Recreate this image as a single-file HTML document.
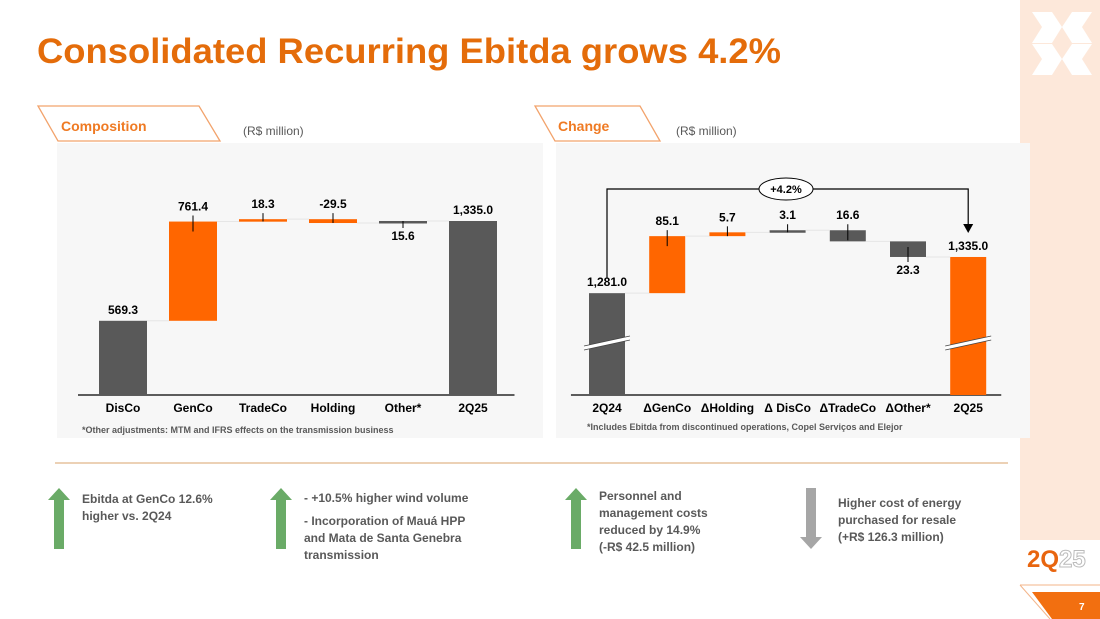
<!DOCTYPE html>
<html><head><meta charset="utf-8"><style>
html,body{margin:0;padding:0;background:#fff}
svg{display:block;font-family:"Liberation Sans",sans-serif}
.b{font-weight:bold}
</style></head><body>
<svg id="s" width="1100" height="619" viewBox="0 0 1100 619" xmlns="http://www.w3.org/2000/svg">
<rect x="1020" y="0" width="80" height="540" fill="#fde8da"/>
<g fill="#fff">
<polygon points="1032,12 1052,12 1062,27 1042,27"/><polygon points="1092,12 1072,12 1062,27 1082,27"/>
<polygon points="1042,27 1062,27 1052,43 1032,43"/><polygon points="1082,27 1062,27 1072,43 1092,43"/>
<polygon points="1032,44 1052,44 1062,59 1042,59"/><polygon points="1092,44 1072,44 1062,59 1082,59"/>
<polygon points="1042,59 1062,59 1052,75 1032,75"/><polygon points="1082,59 1062,59 1072,75 1092,75"/>
</g>
<text x="1027" y="567" font-size="24" class="b" fill="#e8650f">2Q<tspan fill="#fff" stroke="#bbb" stroke-width="1">25</tspan></text>
<polyline points="1020,585 1100,585" stroke="#f3b58a" stroke-width="1" fill="none"/>
<polyline points="1020,585 1050,619" stroke="#f3b58a" stroke-width="1" fill="none"/>
<polygon points="1032,592 1100,592 1100,619 1052,619" fill="#f26f10"/>
<text x="1079" y="610" font-size="10" fill="#fff" class="b">7</text>

<text x="37" y="63" font-size="35" class="b" fill="#e46c0a" textLength="744" lengthAdjust="spacingAndGlyphs">Consolidated Recurring Ebitda grows 4.2%</text>

<polygon points="38,106 199,106 220,141 58,141" fill="#fff" stroke="#f2a36c" stroke-width="1.3"/>
<text x="61" y="131" font-size="14" class="b" fill="#ef7a23">Composition</text>
<text x="243" y="135" font-size="12" fill="#595959">(R$ million)</text>
<polygon points="535,106 640,106 660,141 555,141" fill="#fff" stroke="#f2a36c" stroke-width="1.3"/>
<text x="558" y="131" font-size="14" class="b" fill="#ef7a23">Change</text>
<text x="676" y="135" font-size="12" fill="#595959">(R$ million)</text>

<rect x="57" y="143" width="486" height="295" fill="#f7f7f7"/>
<rect x="556" y="143" width="474" height="295" fill="#f7f7f7"/>
<g id="c1"></g>
<g id="c2"></g>
<text x="82" y="433" font-size="9" class="b" fill="#595959">*Other adjustments: MTM and IFRS effects on the transmission business</text>
<text x="587" y="430" font-size="9" class="b" fill="#595959">*Includes Ebitda from discontinued operations, Copel Serviços and Elejor</text>

<line x1="55" y1="463" x2="1008" y2="463" stroke="#d9a36b" stroke-width="1"/>
<g fill="#6aab67">
<polygon points="59,488 70,500 64,500 64,549 54,549 54,500 48,500"/>
<polygon points="281,488 292,500 286,500 286,549 276,549 276,500 270,500"/>
<polygon points="576,488 587,500 581,500 581,549 571,549 571,500 565,500"/>
</g>
<polygon points="811,549 822,537 816,537 816,488 806,488 806,537 800,537" fill="#a6a6a6"/>
<g font-size="12" class="b" fill="#595959">
<text x="82" y="503">Ebitda at GenCo 12.6%<tspan x="82" dy="17">higher vs. 2Q24</tspan></text>
<text x="304" y="502">- +10.5% higher wind volume</text>
<text x="304" y="525">- Incorporation of Mauá HPP<tspan x="304" dy="17">and Mata de Santa Genebra</tspan><tspan x="304" dy="17">transmission</tspan></text>
<text x="599" y="500">Personnel and<tspan x="599" dy="17">management costs</tspan><tspan x="599" dy="17">reduced by 14.9%</tspan><tspan x="599" dy="17">(-R$ 42.5 million)</tspan></text>
<text x="838" y="507">Higher cost of energy<tspan x="838" dy="17">purchased for resale</tspan><tspan x="838" dy="17">(+R$ 126.3 million)</tspan></text>
</g>
</svg>
<script>
const c1Cats=["DisCo","GenCo","TradeCo","Holding","Other*","2Q25"];
const c1Vals=[569.3,761.4,18.3,-29.5,15.6,1335.0];
const c1Labels=["569.3","761.4","18.3","-29.5","15.6","1,335.0"];
const c1Type=["total","delta","delta","delta","delta","total"];
const c1Color=["#595959","#ff6600","#ff6600","#ff6600","#595959","#595959"];
const c1Below=[false,false,false,false,true,false];
const c2Cats=["2Q24","\u0394GenCo","\u0394Holding","\u0394 DisCo","\u0394TradeCo","\u0394Other*","2Q25"];
const c2Vals=[1281.0,85.1,5.7,3.1,-16.6,-23.3,1335.0];
const c2Labels=["1,281.0","85.1","5.7","3.1","16.6","23.3","1,335.0"];
const c2Type=["total","delta","delta","delta","delta","delta","total"];
const c2Color=["#595959","#ff6600","#ff6600","#595959","#595959","#595959","#ff6600"];
const c2Below=[false,false,false,false,false,true,false];
const growthLabel="+4.2%";
const NS="http://www.w3.org/2000/svg";
function mk(p,t,a){const e=document.createElementNS(NS,t);for(const k in a)e.setAttribute(k,a[k]);p.appendChild(e);return e;}
function draw(g,cats,vals,labels,types,colors,belowArr,yf,x0,step,bw,pref,broken){
  const base=395;let run=0;
  mk(g,'line',{x1:x0-step*0.3,y1:base,x2:x0+step*(cats.length-1)+bw+step*0.25,y2:base,stroke:'#000','stroke-width':1.3});
  cats.forEach((c,i)=>{
    const x=x0+i*step;let y1,y2;const prev=run;
    if(types[i]==='total'){run=vals[i];y1=yf(run);y2=base;}
    else{const s=run;run+=vals[i];y1=yf(Math.max(s,run));y2=yf(Math.min(s,run));}
    const r=mk(g,'rect',{x:x,y:y1,width:bw,height:Math.max(2.5,y2-y1),fill:colors[i]});
    
    
    if(i>0){const cy=yf(types[i]==='total'?vals[i]:prev);mk(g,'line',{x1:x-step+bw,y1:cy,x2:x,y2:cy,stroke:'#e6e6e6','stroke-width':1});}
    const cx=x+bw/2;
    const below=belowArr[i];
    if(types[i]==='delta'){
      if(below)mk(g,'line',{x1:cx,y1:Math.max(y1,y2-10),x2:cx,y2:y2+5,stroke:'#000','stroke-width':1});
      else mk(g,'line',{x1:cx,y1:y1-6,x2:cx,y2:Math.min(y2,y1+10),stroke:'#000','stroke-width':1});
    }
    const ty=below?y2+17:y1-7-(types[i]==='delta'?4:0);
    const t=mk(g,'text',{x:cx,y:ty,'text-anchor':'middle','font-size':12,'font-weight':'bold',fill:'#000'});
    t.textContent=labels[i];
    
    
    const l=mk(g,'text',{x:cx,y:412,'text-anchor':'middle','font-size':12,'font-weight':'bold',fill:'#000'});
    l.textContent=c;
    
    
    if(broken&&types[i]==='total'){
      const by=343;
      mk(g,'polygon',{points:`${x-5},${by+3} ${x+bw+5},${by-7} ${x+bw+5},${by-3} ${x-5},${by+7}`,fill:'#fff'});
      mk(g,'line',{x1:x-5,y1:by+3,x2:x+bw+5,y2:by-7,stroke:'#444','stroke-width':0.8});
      mk(g,'line',{x1:x-5,y1:by+7,x2:x+bw+5,y2:by-3,stroke:'#444','stroke-width':0.8});
    }
  });
}
const y1f=v=>395-v*174/1335;
draw(document.getElementById('c1'),c1Cats,c1Vals,c1Labels,c1Type,c1Color,c1Below,y1f,99,70,48,'comp',false);
const y2f=v=>395-(v-1129)*0.67;
const g2=document.getElementById('c2');
draw(g2,c2Cats,c2Vals,c2Labels,c2Type,c2Color,c2Below,y2f,589,60.2,36,'chg',true);
const ax=589+18, bx=589+6*60.2+18, ty=189;
const p=mk(g2,'polyline',{points:`${ax},${y2f(c2Vals[0])-15} ${ax},${ty} ${bx},${ty} ${bx},${y2f(c2Vals[6])-32}`,fill:'none',stroke:'#000','stroke-width':1.2});


mk(g2,'polygon',{points:`${bx-5},${y2f(c2Vals[6])-33} ${bx+5},${y2f(c2Vals[6])-33} ${bx},${y2f(c2Vals[6])-24}`,fill:'#000'});
const e=mk(g2,'ellipse',{cx:786,cy:ty,rx:27,ry:11,fill:'#fff',stroke:'#000','stroke-width':1});


const gt=mk(g2,'text',{x:786,y:ty+4,'text-anchor':'middle','font-size':11,'font-weight':'bold',fill:'#000'});
gt.textContent=growthLabel;


</script>
</body></html>
